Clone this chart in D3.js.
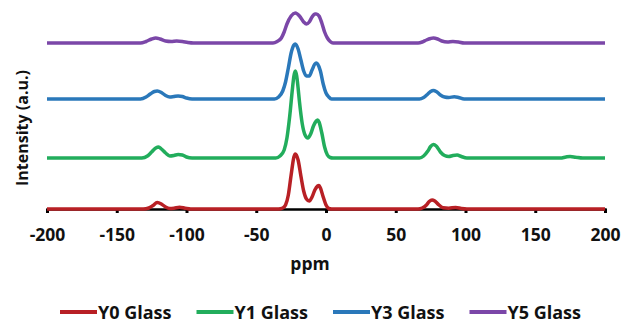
<!DOCTYPE html>
<html>
<head>
<meta charset="utf-8">
<script src="https://cdn.jsdelivr.net/npm/d3@7/dist/d3.min.js"></script>
<style>
  body { margin: 0; background: #fff; }
  text { font-family: "Open Sans", Lato, sans-serif; font-weight: bold; fill: #111; }
</style>
</head>
<body>
<svg id="chart"></svg>
<script>
// series names and vertical stacking offsets (a.u.)
const seriesNames = ["Y0 Glass", "Y1 Glass", "Y3 Glass", "Y5 Glass"];
const seriesOffsets = [0, 51, 110, 166];
const xTicks = [-200, -150, -100, -50, 0, 50, 100, 150, 200];

// [ppm, intensity above baseline]
const y0Glass = [[-200,0],[-131,0],[-127,1],[-124,3.5],[-121,6.5],[-118,5],[-115,2],[-112,0.5],[-109,0.8],[-105,1.8],[-101,0.8],[-97,0],
  [-34,0],[-31,1],[-29,4],[-27,14],[-25,34],[-23,52],[-22,55],[-20,49],[-18,33],[-16,18],[-14,10],[-12,8],[-10,12],[-8,19],[-6,23],[-5,23.5],[-4,21],[-2,12],[0,4],[2,0.5],[4,0],
  [66,0],[69,1],[72,4],[74,7.5],[76,9],[78,8],[81,4],[84,1.2],[88,0.8],[93,1.5],[97,0.5],[101,0],[200,0]];
const y1Glass = [[-200,0],[-132,0],[-128,2],[-125,6],[-122,10],[-120,11],[-118,9],[-115,5],[-112,2],[-109,2.5],[-106,3.5],[-103,3],[-100,1],[-96,0],
  [-36,0],[-33,2],[-30,8],[-28,20],[-26,42],[-24,70],[-23,82],[-22,87],[-21,82],[-20,70],[-19,56],[-17,34],[-15,23],[-13,20],[-11,24],[-9,32],[-7,37],[-6,38],[-5,36],[-3,25],[-1,11],[1,3],[3,0.5],[5,0],
  [67,0],[70,2],[73,7],[75,11.5],[77,13.5],[79,12],[82,6],[85,2.5],[88,1.5],[91,2.5],[94,3],[97,1.5],[101,0],[168,0],[172,1],[175,1.5],[179,0.8],[184,0],[200,0]];
const y3Glass = [[-200,0],[-133,0],[-129,2],[-126,5],[-123,7.5],[-121,8],[-118,6.5],[-115,3.5],[-112,2],[-109,2.5],[-106,3],[-103,2.5],[-100,1],[-96,0],
  [-37,0],[-34,2],[-31,8],[-29,17],[-27,31],[-25,46],[-23,54],[-22,55],[-20,50],[-18,39],[-16,28],[-14,23],[-12,23],[-10,29],[-8,35],[-7,36],[-6,35],[-4,28],[-2,15],[0,6],[2,2],[4,0],
  [67,0],[70,1.5],[73,5],[75,7.5],[77,8.5],[79,7.5],[82,4],[85,2],[88,1.5],[92,2.2],[95,1.5],[99,0],[200,0]];
const y5Glass = [[-200,0],[-133,0],[-129,1.5],[-125,4],[-122,5],[-119,4],[-115,2],[-111,1.5],[-107,2],[-103,1.5],[-99,0.5],[-95,0],
  [-38,0],[-35,1.5],[-32,5],[-30,11],[-28,19],[-25,27],[-22,30],[-19,27],[-16,21],[-14,19],[-12,21],[-10,26],[-8,29],[-7,29],[-5,27],[-3,20],[-1,11],[1,5],[3,1.5],[5,0],
  [66,0],[69,1],[72,3],[75,4.5],[77,5],[80,4],[83,2],[87,1],[91,1.5],[95,1],[99,0],[200,0]];

const seriesData = [y0Glass, y1Glass, y3Glass, y5Glass];
const colors = ["#B82025", "#22AD5C", "#2A78BA", "#7B47A8"];

const width = 630, height = 324;

const svg = d3.select("#chart")
  .attr("width", width)
  .attr("height", height);

const xScale = d3.scaleLinear().domain([-200, 200]).range([47, 605]);
const yScale = d3.scaleLinear().domain([0, 200]).range([209, 9]);

// x axis: line + ticks below, plain hyphen for negatives
const xAxis = d3.axisBottom(xScale)
  .tickValues(xTicks)
  .tickSize(4)
  .tickPadding(16)
  .tickFormat(d => String(d));

const gx = svg.append("g")
  .attr("transform", "translate(0," + yScale(0) + ")")
  .call(xAxis);
gx.select(".domain").attr("stroke", "#000").attr("stroke-width", 2.5);
gx.selectAll(".tick line").attr("stroke", "#000").attr("stroke-width", 3);
gx.selectAll(".tick text")
  .style("font-size", "17.5px")
  .style("font-family", "'Open Sans', Lato, sans-serif")
  .style("font-weight", "bold")
  .attr("fill", "#111");

svg.append("text")
  .attr("x", 310)
  .attr("y", 270)
  .attr("text-anchor", "middle")
  .style("font-size", "17.5px")
  .text("ppm");

svg.append("text")
  .attr("transform", "translate(28,128) rotate(-90)")
  .attr("text-anchor", "middle")
  .style("font-size", "16px")
  .text("Intensity (a.u.)");

// spectra
const line = d3.line()
  .curve(d3.curveMonotoneX);

seriesData.forEach((data, i) => {
  svg.append("path")
    .datum(data)
    .attr("fill", "none")
    .attr("stroke", colors[i])
    .attr("stroke-width", 3.5)
    .attr("stroke-linejoin", "round")
    .attr("d", line.x(d => xScale(d[0])).y(d => yScale(d[1] + seriesOffsets[i])));
});

// legend
const legend = svg.append("g").attr("transform", "translate(0,312)");
let lx = 60;
seriesNames.forEach((name, i) => {
  legend.append("line")
    .attr("x1", lx).attr("x2", lx + 37)
    .attr("y1", 0).attr("y2", 0)
    .attr("stroke", colors[i])
    .attr("stroke-width", 4);
  const t = legend.append("text")
    .attr("x", lx + 38)
    .attr("y", 6.5)
    .style("font-size", "18px")
    .text(name);
  lx += 38 + t.node().getComputedTextLength() + 25;
});
</script>
</body>
</html>
